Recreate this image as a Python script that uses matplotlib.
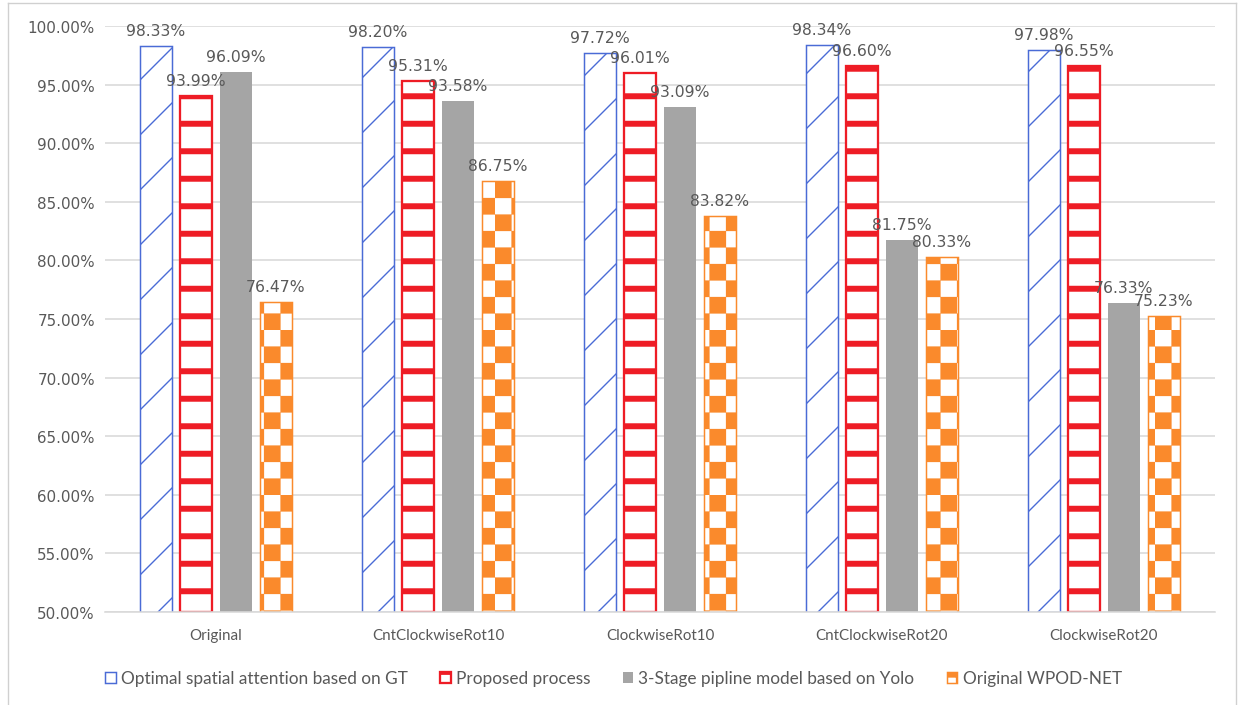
import warnings
import numpy as np
import matplotlib as mpl
mpl.use("Agg")
import matplotlib.pyplot as plt
import matplotlib.hatch as mhatch
from matplotlib.path import Path
from matplotlib.lines import Line2D

warnings.filterwarnings("ignore")

categories = ["Original", "CntClockwiseRot10", "ClockwiseRot10", "CntClockwiseRot20", "ClockwiseRot20"]
optimal = [98.33, 98.20, 97.72, 98.34, 97.98]
proposed = [93.99, 95.31, 96.01, 96.60, 96.55]
yolo3 = [96.09, 93.58, 93.09, 81.75, 76.33]
wpod = [76.47, 86.75, 83.82, 80.33, 75.23]
series_names = ["Optimal spatial attention based on GT", "Proposed process",
                "3-Stage pipline model based on Yolo", "Original WPOD-NET"]
yticks = np.arange(50, 101, 5)


# checkerboard hatch, 'c'
class CheckerHatch(mhatch.HatchPatternBase):
    def __init__(self, hatch, density):
        self.n = 10 if "c" in hatch else 0
        self.num_vertices = (self.n * self.n // 2) * 5

    def set_vertices_and_codes(self, vertices, codes):
        n = self.n
        s = 1.0 / n
        sq = np.array([[0, 0], [s, 0], [s, s], [0, s], [0, 0]], dtype=float)
        cd = [Path.MOVETO, Path.LINETO, Path.LINETO, Path.LINETO, Path.CLOSEPOLY]
        parts = []
        for i in range(n):
            for j in range(n):
                if (i + j) % 2 == 0:
                    parts.append(sq + [i * s, j * s])
        vertices[:] = np.concatenate(parts)
        codes[:] = np.tile(cd, len(parts))


mhatch._hatch_types.append(CheckerHatch)

DPI = 165
fig = plt.figure(figsize=(1238 / DPI, 706 / DPI), dpi=DPI)
ax = fig.add_axes([105 / 1238, 1 - 613 / 706, 1110 / 1238, 586 / 706])

base = 50
x = np.arange(len(categories))
w = 0.144
step = 0.18
label_col = "#595959"

styles = [
    dict(facecolor="white", edgecolor="#4A6BD6", hatch="/", lw=0.65, hlw=0.6, z=2),
    dict(facecolor="white", edgecolor="#EE1C25", hatch="-", lw=1.0, hlw=2.6, z=2),
    dict(facecolor="#A5A5A5", edgecolor="#A5A5A5", hatch=None, lw=0.0, hlw=1.0, z=2),
    dict(facecolor="white", edgecolor="#FA8A2C", hatch="c", lw=0.65, hlw=0.1, z=2),
]

for k, vals in enumerate([optimal, proposed, yolo3, wpod]):
    st = styles[k]
    with plt.rc_context({"hatch.linewidth": st["hlw"]}):
        bars = ax.bar(x + (k - 1.5) * step, np.array(vals) - base, bottom=base, width=w,
                      facecolor=st["facecolor"], edgecolor=st["edgecolor"], hatch=st["hatch"],
                      linewidth=st["lw"], zorder=st["z"], label=series_names[k])
        for b in bars:
            if hasattr(b, "set_hatch_linewidth"):
                b.set_hatch_linewidth(st["hlw"])
    for xi, v in zip(x + (k - 1.5) * step, vals):
        ax.annotate(f"{v:.2f}%", (xi, v), xytext=(0, 3.5), textcoords="offset points",
                    ha="center", va="bottom", fontsize=6.8, color=label_col, zorder=5)

ax.set_xlim(-0.5, len(categories) - 0.5)
ax.set_ylim(50, 100)
ax.set_yticks(yticks)
ax.set_yticklabels([f"{t:.2f}%" for t in yticks], fontsize=6.6, color=label_col)
ax.set_xticks(x)
ax.set_xticklabels(categories, fontsize=6.6, color=label_col, family="Lato")
ax.tick_params(axis="y", length=0, pad=4.4)
ax.tick_params(axis="x", length=0, pad=7)
ax.grid(axis="y", color="#D9D9D9", linewidth=0.7, zorder=0)
ax.set_axisbelow(True)
for s in ["top", "right", "left"]:
    ax.spines[s].set_visible(False)
ax.spines["bottom"].set_color("#D9D9D9")
ax.spines["bottom"].set_linewidth(0.7)

fig.legend(loc="center", bbox_to_anchor=(0.4956, 0.038), ncol=4, frameon=False,
           prop={"family": "Lato", "size": 7.5}, labelcolor=label_col,
           handlelength=0.6, handleheight=0.6, handletextpad=0.3, columnspacing=1.9)

# outer frame
fc = "#D0D0D0"
fig.add_artist(Line2D([8 / 1238, 8 / 1238], [0, 1 - 4 / 706], color=fc, lw=0.6))
fig.add_artist(Line2D([8 / 1238, 1236 / 1238], [1 - 4 / 706, 1 - 4 / 706], color=fc, lw=0.6))
fig.add_artist(Line2D([1236 / 1238, 1236 / 1238], [0, 1 - 4 / 706], color=fc, lw=0.6))

fig.savefig("out.png", dpi=DPI, facecolor="white")
